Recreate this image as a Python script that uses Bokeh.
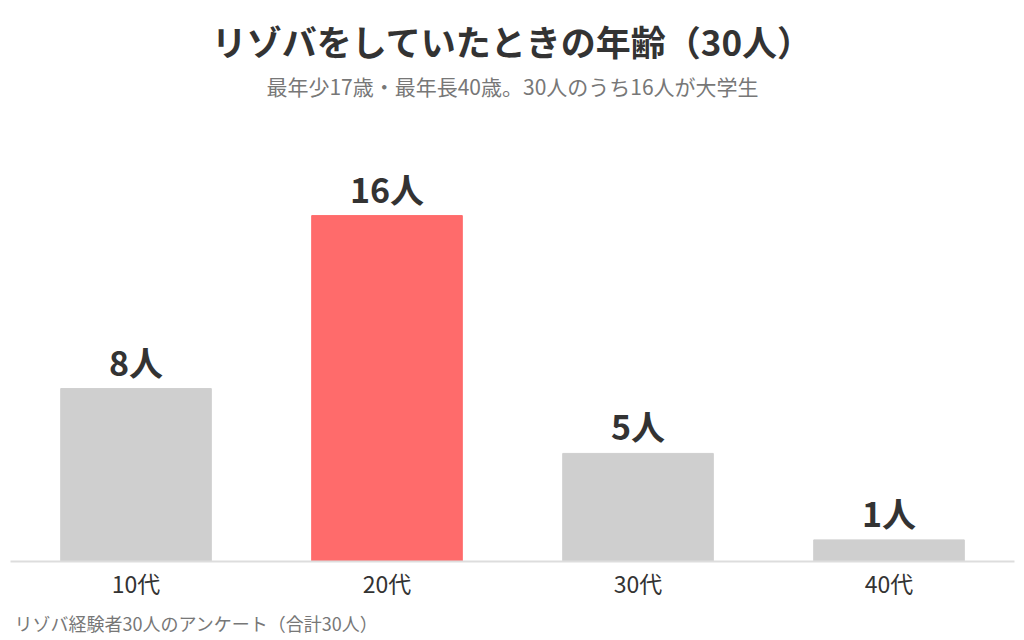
import numpy as np
from bokeh.plotting import figure
from bokeh.models import ColumnDataSource, Title
from bokeh.core.properties import value
from bokeh.embed import file_html
from bokeh.resources import INLINE

# データ
ages = ["10代", "20代", "30代", "40代"]
counts = [8, 16, 5, 1]
highlight = "20代"

title_text = "リゾバをしていたときの年齢（30人）"
subtitle_text = "最年少17歳・最年長40歳。30人のうち16人が大学生"
footer_text = "リゾバ経験者30人のアンケート（合計30人）"

FONT = "Noto Sans CJK JP"

colors = ["#ff6b6b" if a == highlight else "#cfcfcf" for a in ages]
source = ColumnDataSource(dict(
    age=ages,
    count=counts,
    color=colors,
    label=[f"{c}人" for c in counts],
))

p = figure(x_range=ages, y_range=(0, 25.95), width=1024, height=640,
           output_backend="svg", toolbar_location=None, tools="",
           min_border_left=10, min_border_right=10, min_border_top=0,
           min_border_bottom=77)

p.vbar(x="age", top="count", width=0.6, color="color", source=source)

p.text(x="age", y="count", text="label", source=source,
       text_align="center", text_baseline="bottom", y_offset=-3,
       text_font=value(FONT), text_font_style="bold",
       text_font_size="34px", text_color="#333333")

# タイトル・サブタイトル（プロット上部の余白に配置）
p.text(x=[2.0], y=[24.1], text=[title_text], text_align="center",
       text_baseline="middle", text_font=value(FONT), text_font_style="bold",
       text_font_size="35px", text_color="#333333")
p.text(x=[2.0], y=[21.98], text=[subtitle_text], text_align="center",
       text_baseline="middle", text_font=value(FONT),
       text_font_size="21px", text_color="#777777")

# 出典
p.add_layout(Title(text=footer_text, align="left", text_font=FONT,
                   text_font_size="18px", text_font_style="normal",
                   text_color="#777777", offset=4), "below")

p.x_range.range_padding = 0
p.xgrid.grid_line_color = None
p.ygrid.grid_line_color = None
p.yaxis.visible = False
p.xaxis.axis_line_color = "#dddddd"
p.xaxis.axis_line_width = 2
p.xaxis.major_tick_line_color = None
p.xaxis.minor_tick_line_color = None
p.xaxis.major_tick_out = 0
p.xaxis.minor_tick_out = 0
p.xaxis.major_label_text_font = FONT
p.xaxis.major_label_text_font_size = "23px"
p.xaxis.major_label_text_color = "#333333"
p.xaxis.major_label_standoff = 4
p.outline_line_color = None

open("out.html", "w").write(file_html(p, INLINE))
